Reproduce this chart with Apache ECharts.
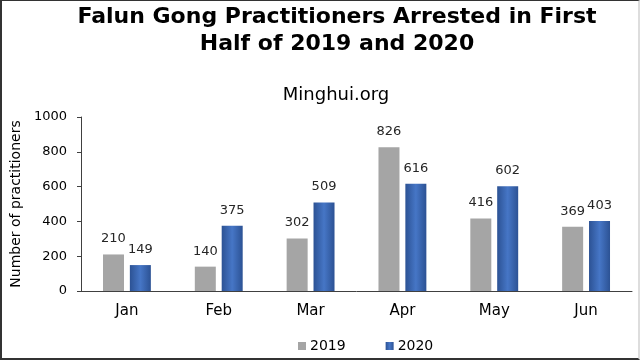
<!DOCTYPE html>
<html>
<head>
<meta charset="utf-8">
<script src="https://cdn.jsdelivr.net/npm/echarts@6/dist/echarts.min.js"></script>
<style>
html,body{margin:0;padding:0;background:#fff;}
#wrap{position:relative;width:640px;height:360px;}
#chart{width:640px;height:360px;}
#frame{position:absolute;left:0;top:0;width:640px;height:360px;box-sizing:border-box;
 border-top:1px solid #333;border-left:2px solid #333;border-bottom:2px solid #333;border-right:2px solid #ddd;pointer-events:none;}
</style>
</head>
<body>
<div id="wrap"><div id="chart"></div><div id="frame"></div></div>
<script>
const titleLine1 = 'Falun Gong Practitioners Arrested in First';
const titleLine2 = 'Half of 2019 and 2020';
const subtitleText = 'Minghui.org';
const yAxisName = 'Number of practitioners';
const months = ['Jan', 'Feb', 'Mar', 'Apr', 'May', 'Jun'];
const seriesNames = ['2019', '2020'];
const values2019 = [210, 140, 302, 826, 416, 369];
const values2020 = [149, 375, 509, 616, 602, 403];

const chart = echarts.init(document.getElementById('chart'), null, {renderer: 'canvas'});
const blueGrad = new echarts.graphic.LinearGradient(0, 0, 1, 0, [
  {offset: 0, color: '#2c5294'},
  {offset: 0.5, color: '#4676c6'},
  {offset: 1, color: '#2c5294'}
]);
const labelStyle = {show: true, position: 'top', distance: 9, color: '#262626', fontFamily: 'DejaVu Sans', fontSize: 13};
chart.setOption({
  animation: false,
  backgroundColor: '#ffffff',
  title: [
    {text: titleLine1, left: 337, top: 6, textAlign: 'center', padding: 0,
     textStyle: {fontFamily: 'DejaVu Sans', fontWeight: 'bold', fontSize: 22, lineHeight: 22, color: '#000'}},
    {text: titleLine2, left: 337, top: 33, textAlign: 'center', padding: 0,
     textStyle: {fontFamily: 'DejaVu Sans', fontWeight: 'bold', fontSize: 22, lineHeight: 22, color: '#000'}},
    {text: subtitleText, left: 336, top: 86, textAlign: 'center', padding: 0,
     textStyle: {fontFamily: 'DejaVu Sans', fontWeight: 'normal', fontSize: 18, lineHeight: 18, color: '#000'}}
  ],
  legend: {
    top: 339, left: 298, padding: 0, itemWidth: 8, itemHeight: 8, itemGap: 40, icon: 'rect',
    textStyle: {fontFamily: 'DejaVu Sans', fontSize: 14, color: '#000', padding: [0, 0, 0, -1]},
    data: seriesNames
  },
  grid: {left: 81, right: 8, top: 117, bottom: 69},
  xAxis: {
    type: 'category', data: months,
    axisLine: {lineStyle: {color: '#404040', width: 1}},
    axisTick: {show: false},
    axisLabel: {color: '#000', fontFamily: 'DejaVu Sans', fontSize: 15, margin: 13}
  },
  yAxis: {
    type: 'value', min: 0, max: 1000, interval: 200,
    name: yAxisName, nameLocation: 'middle', nameGap: 58,
    nameTextStyle: {fontFamily: 'DejaVu Sans', fontSize: 14, color: '#000'},
    axisLine: {show: true, lineStyle: {color: '#404040', width: 1}},
    axisTick: {show: true, length: 4, lineStyle: {color: '#404040'}},
    splitLine: {show: false},
    axisLabel: {color: '#000', fontFamily: 'DejaVu Sans', fontSize: 13, margin: 14,
      formatter: function (v) { return String(v); }}
  },
  series: [
    {name: seriesNames[0], type: 'bar', data: values2019, barWidth: 21, barGap: '28%',
     itemStyle: {color: '#a5a5a5'}, label: labelStyle},
    {name: seriesNames[1], type: 'bar', data: values2020, barWidth: 21,
     itemStyle: {color: blueGrad}, label: labelStyle}
  ]
});
</script>
</body>
</html>
